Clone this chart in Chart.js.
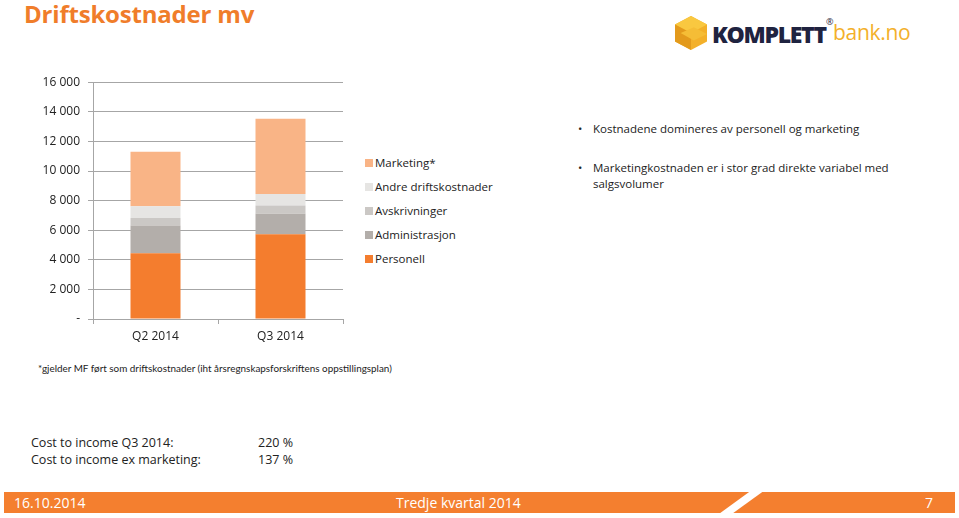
<!DOCTYPE html>
<html>
<head>
<meta charset="utf-8">
<script src="https://cdn.jsdelivr.net/npm/chart.js@4"></script>
<style>
  html,body{margin:0;padding:0;background:#fff;}
  body{width:959px;height:518px;position:relative;overflow:hidden;font-family:"Open Sans","Lato",sans-serif;color:#222;}
  .abs{position:absolute;white-space:nowrap;}
  #title{left:24px;top:2px;font-size:24px;line-height:24px;height:26px;font-weight:bold;color:#F07D2A;letter-spacing:-0.2px;}
  #chartWrap{position:absolute;left:0;top:67px;width:350px;height:280px;}
  #legend{position:absolute;left:365px;top:151px;font-size:11.5px;color:#222;}
  #legend .item{height:24px;line-height:20px;display:flex;align-items:center;}
  #legend .sw{width:8px;height:8px;margin-right:2px;}
  .bul{font-size:11.5px;color:#222;}
  .bul .dot{position:absolute;left:-15px;}
  #bar{position:absolute;left:4px;top:492px;width:951px;height:21px;background:#F47F2F;}
  #slash{position:absolute;left:734px;top:487px;width:13px;height:32px;background:#fff;transform:skewX(-54deg);}
  .ft{color:#fff;font-size:14px;top:493px;}
</style>
</head>
<body>
<div id="title" class="abs">Driftskostnader mv</div>

<!-- logo -->
<div class="abs" style="left:675px;top:15px;width:32px;height:36px;">
  <svg width="32" height="36" viewBox="0 0 34 36">
    <polygon points="17,0 34,9 34,27 17,36 0,27 0,9" fill="#F3B02A"/>
    <polygon points="17,0 34,9 17,18 0,9" fill="#F9C840"/>
    <polygon points="0,9 17,18 17,36 0,27" fill="#E39A1C"/>
    <polygon points="6,18 20,12 34,19 20,26" fill="#F5BD36"/>
  </svg>
</div>
<div class="abs" style="left:712px;top:18px;font-size:23px;font-weight:800;color:#1F2340;letter-spacing:-1.3px;">KOMPLETT</div>
<div class="abs" style="left:826px;top:15px;font-size:9px;color:#1F2340;">®</div>
<div class="abs" style="left:833px;top:18px;font-size:21px;color:#F3B02A;letter-spacing:-0.3px;">bank.no</div>

<div id="chartWrap"><canvas id="c"></canvas></div>
<div id="legend"></div>

<div class="abs bul" style="left:593px;top:121px;"><span class="dot">•</span>Kostnadene domineres av personell og marketing</div>
<div class="abs bul" style="left:593px;top:160px;line-height:16px;"><span class="dot">•</span>Marketingkostnaden er i stor grad direkte variabel med<br>salgsvolumer</div>

<div class="abs" style="left:38px;top:362px;font-size:9.9px;color:#222;font-family:Lato,sans-serif;">*gjelder MF ført som driftskostnader (iht årsregnskapsforskriftens oppstillingsplan)</div>

<div class="abs" style="left:31px;top:434px;font-size:12.5px;color:#222;line-height:17px;">Cost to income Q3 2014:<br>Cost to income ex marketing:</div>
<div class="abs" style="left:258px;top:434px;font-size:12.5px;color:#222;line-height:17px;">220 %<br>137 %</div>

<div id="bar"></div>
<div id="slash"></div>
<div class="abs ft" style="left:14px;">16.10.2014</div>
<div class="abs ft" style="left:396px;">Tredje kvartal 2014</div>
<div class="abs ft" style="left:925px;">7</div>

<script>
const categories = ["Q2 2014", "Q3 2014"];
const personell = [4450, 5720];
const administrasjon = [1870, 1390];
const avskrivninger = [500, 560];
const andreDriftskostnader = [790, 770];
const marketing = [3690, 5090];
const yTicks = [0, 2000, 4000, 6000, 8000, 10000, 12000, 14000, 16000];

const seriesNames = ["Personell", "Administrasjon", "Avskrivninger", "Andre driftskostnader", "Marketing*"];
const seriesData = [personell, administrasjon, avskrivninger, andreDriftskostnader, marketing];
const seriesColors = ["#F47D2E", "#B3AEAA", "#CBC8C5", "#E6E5E3", "#F9B486"];

const datasets = seriesNames.map((n, i) => ({
  label: n, data: seriesData[i], backgroundColor: seriesColors[i],
  borderWidth: 0, barPercentage: 0.4, categoryPercentage: 1.0
}));

// HTML legend (reverse order, like the reference)
const lg = document.getElementById('legend');
for (let i = seriesNames.length - 1; i >= 0; i--) {
  const d = document.createElement('div'); d.className = 'item';
  d.innerHTML = '<span class="sw" style="background:' + seriesColors[i] + '"></span>' + seriesNames[i];
  lg.appendChild(d);
}

function fmt(v) {
  if (v === 0) return '-';
  return String(v).replace(/\B(?=(\d{3})+(?!\d))/g, ' ');
}

new Chart(document.getElementById('c'), {
  type: 'bar',
  data: { labels: categories, datasets },
  options: {
    responsive: true, maintainAspectRatio: false, animation: false,
    layout: { padding: { top: 4, right: 7, left: 0, bottom: 0 } },
    plugins: { legend: { display: false }, tooltip: { enabled: false } },
    scales: {
      x: {
        stacked: true,
        grid: { display: true, drawOnChartArea: false, offset: true, tickLength: 5, color: '#A6A6A6' },
        border: { color: '#A6A6A6' },
        ticks: { color: '#222', font: { family: 'Open Sans', size: 12 }, padding: 5 },
        afterFit: s => { s.height = 28; }
      },
      y: {
        stacked: true, min: 0, max: 16000,
        afterBuildTicks: s => { s.ticks = yTicks.map(v => ({ value: v })); },
        grid: { color: '#A6A6A6', tickLength: 5 },
        border: { color: '#A6A6A6' },
        ticks: { color: '#222', font: { family: 'Open Sans', size: 12 }, padding: 8, callback: v => fmt(v) },
        afterFit: s => { s.width = 93; }
      }
    }
  }
});
</script>
</body>
</html>
